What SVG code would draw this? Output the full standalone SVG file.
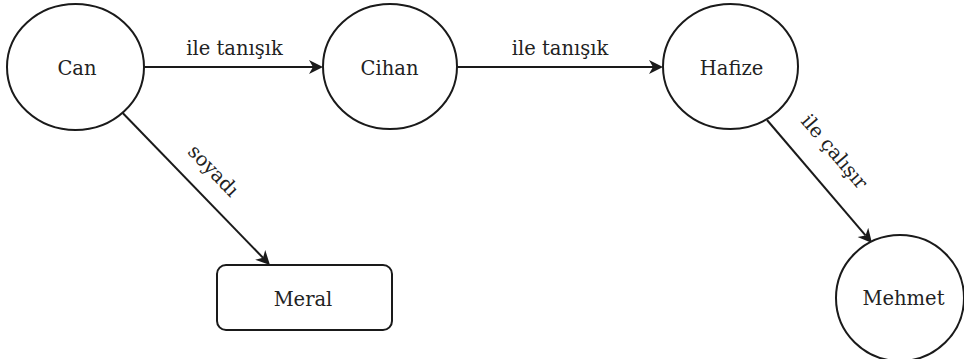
<svg xmlns="http://www.w3.org/2000/svg" width="964" height="359" viewBox="0 0 964 359">
<style>
.node{fill:#ffffff;stroke:#1a1a1a;stroke-width:2}
.t{font-family:'DejaVu Serif','Liberation Serif',serif;font-size:19.5px;fill:#222222;text-anchor:middle}
.edge{stroke:#1a1a1a;stroke-width:2;fill:none;marker-end:url(#arr)}
</style>
<defs>
<marker id="arr" markerUnits="userSpaceOnUse" markerWidth="16" markerHeight="16" viewBox="0 -8 16 16" refX="4" refY="0" orient="auto">
<path d="M0,-7 L14,0 L0,7 L4,0 Z" fill="#1a1a1a"/>
</marker>
</defs>
<rect width="964" height="359" fill="#ffffff"/>
<g id="connectors">
<line class="edge" x1="144" y1="67" x2="313" y2="67"/>
<line class="edge" x1="457" y1="67" x2="653" y2="67"/>
<line class="edge" x1="122.7" y1="113" x2="263" y2="257.8"/>
<line class="edge" x1="767" y1="120" x2="865.5" y2="235.4"/>
<text class="t" x="234.5" y="55">ile tanışık</text>
<text class="t" x="560" y="55">ile tanışık</text>
<text class="t" transform="translate(213,171) rotate(46)" x="0" y="6">soyadı</text>
<text class="t" transform="translate(834,152) rotate(49.5)" x="0" y="6">ile çalışır</text>
</g>
<g id="can">
<ellipse class="node" cx="75.5" cy="67" rx="68.5" ry="63"/>
<text class="t" x="77" y="75">Can</text>
</g>
<g id="cihan">
<ellipse class="node" cx="390" cy="66.5" rx="67" ry="62.5"/>
<text class="t" x="389.5" y="75">Cihan</text>
</g>
<g id="hafize">
<ellipse class="node" cx="730.5" cy="66.5" rx="67.5" ry="62.5"/>
<text class="t" x="731.5" y="75">Hafize</text>
</g>
<g id="meral">
<rect class="node" x="217" y="265" width="175" height="65" rx="9" ry="9"/>
<text class="t" x="303" y="306">Meral</text>
</g>
<g id="mehmet">
<ellipse class="node" cx="900" cy="298" rx="64" ry="63"/>
<text class="t" x="903.5" y="305">Mehmet</text>
</g>
</svg>
